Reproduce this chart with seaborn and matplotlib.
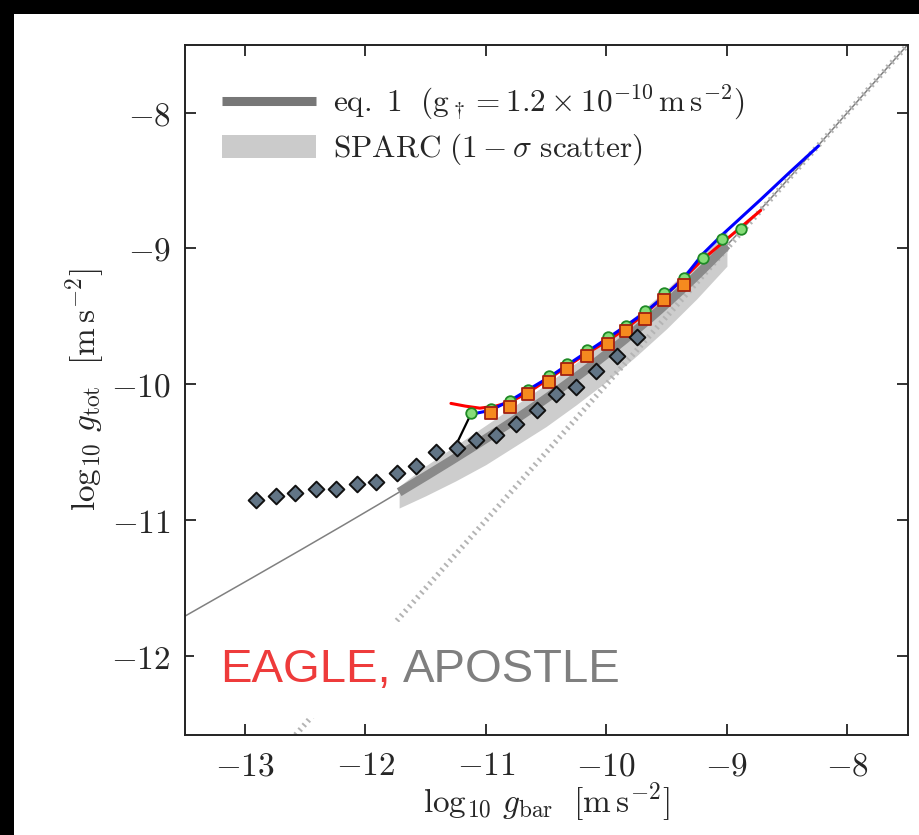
import numpy as np
import matplotlib
matplotlib.use("Agg")
import matplotlib.pyplot as plt
from matplotlib.lines import Line2D
from matplotlib.patches import Patch, Rectangle
from matplotlib.ticker import FuncFormatter
import seaborn as sns

# ---- data -------------------------------------------------------------
# APOSTLE (diamonds)
apostle_x = [-12.91, -12.74, -12.58, -12.41, -12.24, -12.07, -11.91, -11.74, -11.58, -11.41,
             -11.24, -11.08, -10.92, -10.75, -10.58, -10.42, -10.25, -10.09, -9.91, -9.75]
apostle_y = [-10.85, -10.82, -10.80, -10.77, -10.77, -10.73, -10.72, -10.65, -10.60, -10.50,
             -10.47, -10.41, -10.37, -10.29, -10.19, -10.07, -10.02, -9.90, -9.79, -9.65]

# EAGLE, two resolutions (circles and squares)
eagle_hi_x = [-11.12, -10.96, -10.80, -10.65, -10.48, -10.33, -10.16, -9.99, -9.84, -9.68,
              -9.52, -9.36, -9.20, -9.04, -8.88]
eagle_hi_y = [-10.21, -10.18, -10.12, -10.04, -9.94, -9.85, -9.75, -9.65, -9.57, -9.46,
              -9.33, -9.22, -9.07, -8.93, -8.86]
eagle_lo_x = [-10.96, -10.80, -10.65, -10.48, -10.33, -10.16, -9.99, -9.84, -9.68, -9.52, -9.36]
eagle_lo_y = [-10.21, -10.17, -10.07, -9.98, -9.89, -9.79, -9.70, -9.61, -9.52, -9.38, -9.27]

# median relations
red_x = [-11.29, -11.17, -11.05, -10.92, -10.80, -10.65, -10.48, -10.33, -10.16, -9.99,
         -9.84, -9.68, -9.52, -9.36, -9.20, -9.04, -8.88, -8.72]
red_y = [-10.14, -10.16, -10.175, -10.16, -10.13, -10.06, -9.96, -9.87, -9.77, -9.68,
         -9.59, -9.48, -9.35, -9.22, -9.08, -8.96, -8.84, -8.72]
blue_x = [-11.12, -10.96, -10.80, -10.65, -10.48, -10.33, -10.16, -9.99, -9.84, -9.68,
          -9.52, -9.36, -9.20, -9.04, -8.88, -8.72, -8.48, -8.24]
blue_y = [-10.22, -10.19, -10.12, -10.04, -9.95, -9.86, -9.76, -9.66, -9.57, -9.47,
          -9.35, -9.22, -9.04, -8.90, -8.77, -8.64, -8.44, -8.245]
link_x = [-11.25, -11.12]
link_y = [-10.45, -10.21]

# SPARC 1-sigma scatter
sparc_x = [-11.72, -11.5, -11.25, -11.0, -10.75, -10.5, -10.25, -10.0, -9.75, -9.5, -9.25, -9.0]
sparc_hi = [-10.75, -10.60, -10.45, -10.30, -10.15, -10.00, -9.84, -9.67, -9.49, -9.30, -9.09, -8.87]
sparc_lo = [-10.91, -10.82, -10.71, -10.59, -10.45, -10.31, -10.15, -9.98, -9.79, -9.59, -9.37, -9.13]

# eq. 1 acceleration scale
g_dagger = 1.2e-10


def eq1(log_gbar):
    gbar = 10.0 ** np.asarray(log_gbar)
    return np.log10(gbar / (1.0 - np.exp(-np.sqrt(gbar / g_dagger))))


# ---- style ------------------------------------------------------------
sns.set_theme(style="ticks")
plt.rcParams.update({
    "font.family": ["DejaVu Serif"],
    "mathtext.fontset": "cm",
    "axes.edgecolor": "#222222",
    "axes.linewidth": 1.4,
})

fig = plt.figure(figsize=(9.19, 8.35), dpi=100)
fig.patch.set_facecolor("white")
fig.patches.append(Rectangle((0, 0), 14 / 919, 1, transform=fig.transFigure,
                             facecolor="black", edgecolor="none", zorder=-5))
fig.patches.append(Rectangle((0, 1 - 14 / 835), 1, 14 / 835, transform=fig.transFigure,
                             facecolor="black", edgecolor="none", zorder=-5))

ax = fig.add_axes([0.2009, 0.1198, 0.7868, 0.8267])
ax.set_xlim(-13.5, -7.5)
ax.set_ylim(-12.58, -7.5)

# SPARC band and eq. 1
xs_full = np.linspace(-13.5, -7.5, 300)
sns.lineplot(x=xs_full, y=eq1(xs_full), color="#808080", lw=1.1, sort=False,
             estimator=None, ax=ax, zorder=1)
ax.fill_between(sparc_x, sparc_lo, sparc_hi, color="#cdcdcd", lw=0, zorder=1.2)
xs_sparc = np.linspace(sparc_x[0], sparc_x[-1], 200)
sns.lineplot(x=xs_sparc, y=eq1(xs_sparc), color="#8a8a8a", lw=6.5, sort=False,
             estimator=None, ax=ax, zorder=2, solid_capstyle="butt")

# one-to-one line
ax.axline((-10, -10), slope=1, color="#b4b4b4", lw=4.0, ls=(0, (0.35, 0.75)), zorder=1.5)

# simulations
sns.lineplot(x=link_x, y=link_y, color="black", lw=1.6, sort=False, estimator=None,
             ax=ax, zorder=5)
sns.lineplot(x=red_x, y=red_y, color="#ff0000", lw=2.2, sort=False, estimator=None,
             ax=ax, zorder=5)
sns.lineplot(x=blue_x, y=blue_y, color="#0000ff", lw=2.2, sort=False, estimator=None,
             ax=ax, zorder=5.2)
sns.scatterplot(x=eagle_hi_x, y=eagle_hi_y, marker="o", s=58, color="#86dd78",
                edgecolor="#1f8a26", linewidth=1.3, ax=ax, zorder=6)
sns.scatterplot(x=eagle_lo_x, y=eagle_lo_y, marker="s", s=68, color="#f58a1f",
                edgecolor="#a3200f", linewidth=1.3, ax=ax, zorder=7)
sns.scatterplot(x=apostle_x, y=apostle_y, marker="D", s=64, color="#627586",
                edgecolor="#111111", linewidth=1.4, ax=ax, zorder=8)

# axes styling
ax.set_xticks([-13, -12, -11, -10, -9, -8])
ax.set_yticks([-12, -11, -10, -9, -8])
fmt = FuncFormatter(lambda v, p: r"$-%d$" % abs(round(v)))
ax.xaxis.set_major_formatter(fmt)
ax.yaxis.set_major_formatter(fmt)
ax.tick_params(direction="in", top=True, right=True, length=8, width=1.3,
               labelsize=24, color="#222222")
ax.tick_params(axis="x", pad=11)
ax.tick_params(axis="y", pad=10)
for s in ax.spines.values():
    s.set_visible(True)

ax.set_xlabel(r"$\log_{10}\,g_{\rm bar}\ \ [{\rm m\,s^{-2}}]$", fontsize=24)
ax.set_ylabel(r"$\log_{10}\,g_{\rm tot}\ \ [{\rm m\,s^{-2}}]$", fontsize=24)
ax.xaxis.set_label_coords(0.5, -0.066)
ax.yaxis.set_label_coords(-0.108, 0.5)

# legend
handles = [Line2D([], [], color="#777777", lw=6.5, solid_capstyle="butt"),
           Patch(facecolor="#cbcbcb", edgecolor="none")]
labels = [r"${\rm eq.\ 1}\ \ ({\rm g}_\dagger = 1.2\times10^{-10}\,{\rm m\,s^{-2}})$",
          r"${\rm SPARC}\ (1-\sigma\ {\rm scatter})$"]
ax.legend(handles, labels, loc="upper left", bbox_to_anchor=(0.052, 0.944),
          frameon=False, fontsize=22.5, handlelength=3.0, handleheight=0.75,
          handletextpad=0.55, labelspacing=0.3, borderpad=0, borderaxespad=0)

# simulation names
t1 = ax.text(-13.207, -12.187, "EAGLE,", color="#ee3b3b", fontsize=34,
             family=["Liberation Sans", "DejaVu Sans"], va="baseline", zorder=3,
             bbox=dict(boxstyle="square,pad=0.55", facecolor="white", edgecolor="none"))
ax.annotate("APOSTLE", xy=(1, 0), xycoords=t1, xytext=(9, 0), textcoords="offset points",
            color="#7f7f7f", fontsize=34, family=["Liberation Sans", "DejaVu Sans"],
            va="bottom", ha="left", zorder=3)

fig.savefig("out.png", dpi=100, facecolor=fig.get_facecolor())
